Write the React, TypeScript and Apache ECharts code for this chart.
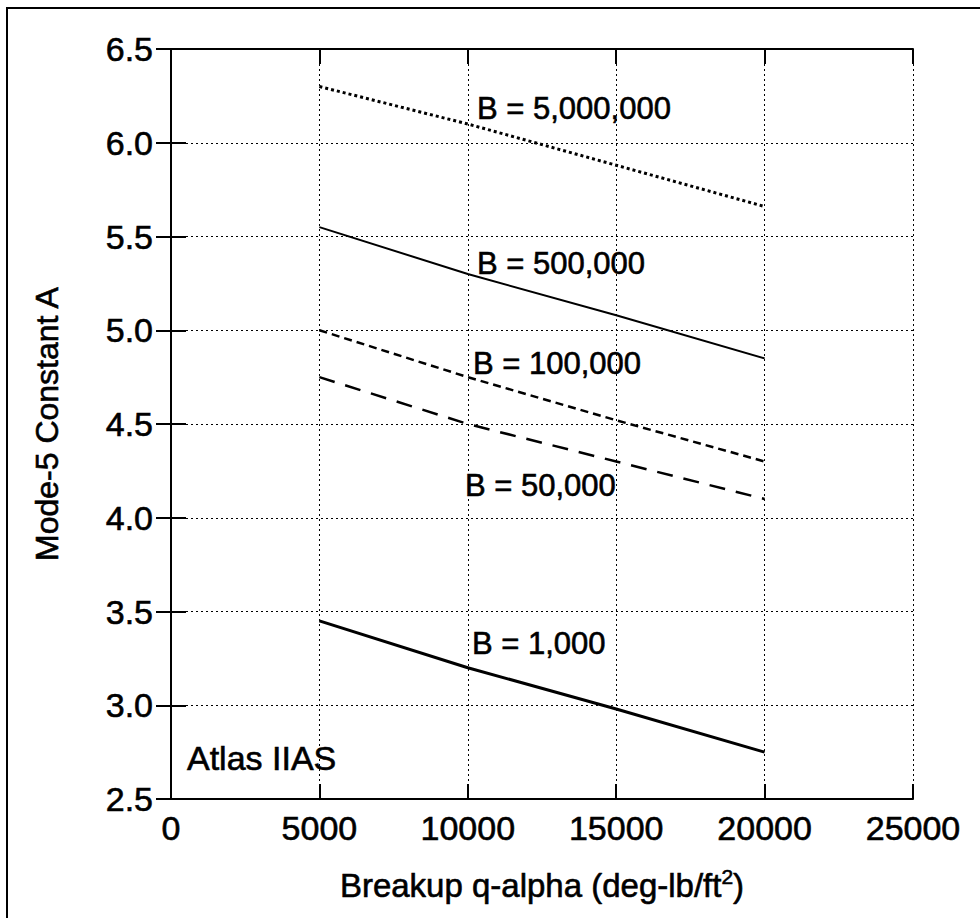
import React, { useEffect, useRef } from "react";
import * as echarts from "echarts";

const xValues = [5000, 10000, 15000, 20000];
const b5000000 = [6.3, 6.1, 5.88, 5.66];
const b500000 = [5.55, 5.3, 5.08, 4.85];
const b100000 = [5.0, 4.75, 4.52, 4.3];
const b50000 = [4.75, 4.5, 4.3, 4.1];
const b1000 = [3.45, 3.2, 2.98, 2.75];

const seriesNames = ["B = 5,000,000", "B = 500,000", "B = 100,000", "B = 50,000", "B = 1,000"];
const xAxisTitle = "Breakup q-alpha (deg-lb/ft{sup|2})";
const yAxisTitle = "Mode-5 Constant A";
const noteText = "Atlas IIAS";

const FONT = "'Liberation Sans', Arial, Helvetica, sans-serif";
const BOLDEN = { textBorderColor: "#000", textBorderWidth: 0.6 };

function pairs(ys: number[]) {
  return xValues.map((x, i) => [x, ys[i]]);
}

function tick() {
  return { show: true, inside: true, length: 15, lineStyle: { color: "#000", width: 2 } };
}

export default function App() {
  const ref = useRef<HTMLDivElement>(null);
  useEffect(() => {
    if (!ref.current) return;
    const chart = echarts.init(ref.current, null, { renderer: "svg" });
    const grid = { left: 171, top: 49, right: 67, bottom: 119, containLabel: false };
    const splitLine = () => ({ show: true, lineStyle: { color: "#000", width: 1, type: [2, 3] as any } });
    const lineDefs = [
      { data: b5000000, width: 3, type: [3, 3] },
      { data: b500000, width: 2, type: "solid" },
      { data: b100000, width: 2.5, type: [8, 5] },
      { data: b50000, width: 2.5, type: [16, 11] },
      { data: b1000, width: 3, type: "solid" },
    ];
    const labelPos = [
      { x: 477, y: 108, size: 31 },
      { x: 477, y: 263, size: 31 },
      { x: 473, y: 363, size: 31 },
      { x: 465, y: 485, size: 31 },
      { x: 472, y: 643, size: 31 },
    ];
    chart.setOption({
      animation: false,
      backgroundColor: "#fff",
      grid,
      xAxis: [
        {
          type: "value",
          min: 0,
          max: 25000,
          interval: 5000,
          position: "bottom",
          axisLine: { show: true, lineStyle: { color: "#000", width: 2 } },
          axisTick: tick(),
          splitLine: splitLine(),
          axisLabel: {
            color: "#000",
            fontSize: 34,
            fontFamily: FONT,
            margin: 12,
            ...BOLDEN,
            formatter: (v: number) => String(v),
          },
          name: xAxisTitle,
          nameLocation: "middle",
          nameGap: 67,
          nameTextStyle: {
            color: "#000",
            fontSize: 33,
            fontFamily: FONT,
            ...BOLDEN,
            rich: {
              sup: { fontSize: 21, fontFamily: FONT, color: "#000", padding: [0, 0, 18, 0], ...BOLDEN },
            },
          },
        },
        {
          type: "value",
          min: 0,
          max: 25000,
          interval: 5000,
          position: "top",
          axisLine: { show: true, lineStyle: { color: "#000", width: 2 } },
          axisTick: tick(),
          splitLine: { show: false },
          axisLabel: { show: false },
        },
      ],
      yAxis: [
        {
          type: "value",
          min: 2.5,
          max: 6.5,
          interval: 0.5,
          position: "left",
          axisLine: { show: true, lineStyle: { color: "#000", width: 2 } },
          axisTick: tick(),
          splitLine: splitLine(),
          axisLabel: {
            color: "#000",
            fontSize: 34,
            fontFamily: FONT,
            margin: 18,
            ...BOLDEN,
            formatter: (v: number) => v.toFixed(1),
          },
          name: yAxisTitle,
          nameLocation: "middle",
          nameGap: 108,
          nameTextStyle: { color: "#000", fontSize: 32, fontFamily: FONT, ...BOLDEN },
        },
        {
          type: "value",
          min: 2.5,
          max: 6.5,
          interval: 0.5,
          position: "right",
          axisLine: { show: true, lineStyle: { color: "#000", width: 2 } },
          axisTick: tick(),
          splitLine: { show: false },
          axisLabel: { show: false },
        },
      ],
      series: lineDefs.map((d, i) => ({
        name: seriesNames[i],
        type: "line",
        data: pairs(d.data),
        showSymbol: false,
        symbol: "none",
        lineStyle: { color: "#000", width: d.width, type: d.type as any },
        z: 3,
      })),
      graphic: [
        {
          type: "rect",
          shape: { x: 7, y: 8, width: 1000, height: 1000 },
          style: { fill: "none", stroke: "#000", lineWidth: 2 },
          silent: true,
        },
        ...labelPos.map((p, i) => ({
          type: "text",
          x: p.x,
          y: p.y,
          style: {
            text: seriesNames[i],
            fontSize: p.size,
            fontFamily: FONT,
            fill: "#000",
            stroke: "#000",
            lineWidth: 0.6,
            verticalAlign: "middle",
            align: "left",
          },
          z: 10,
        })),
        {
          type: "text",
          x: 187,
          y: 758,
          style: {
            text: noteText,
            fontSize: 34,
            fontFamily: FONT,
            fill: "#000",
            stroke: "#000",
            lineWidth: 0.6,
            verticalAlign: "middle",
            align: "left",
          },
          z: 10,
        },
      ],
    });
    return () => chart.dispose();
  }, []);
  return (
    <div
      ref={ref}
      style={{ position: "absolute", left: 0, top: 0, width: 980, height: 918, background: "#fff" }}
    />
  );
}
